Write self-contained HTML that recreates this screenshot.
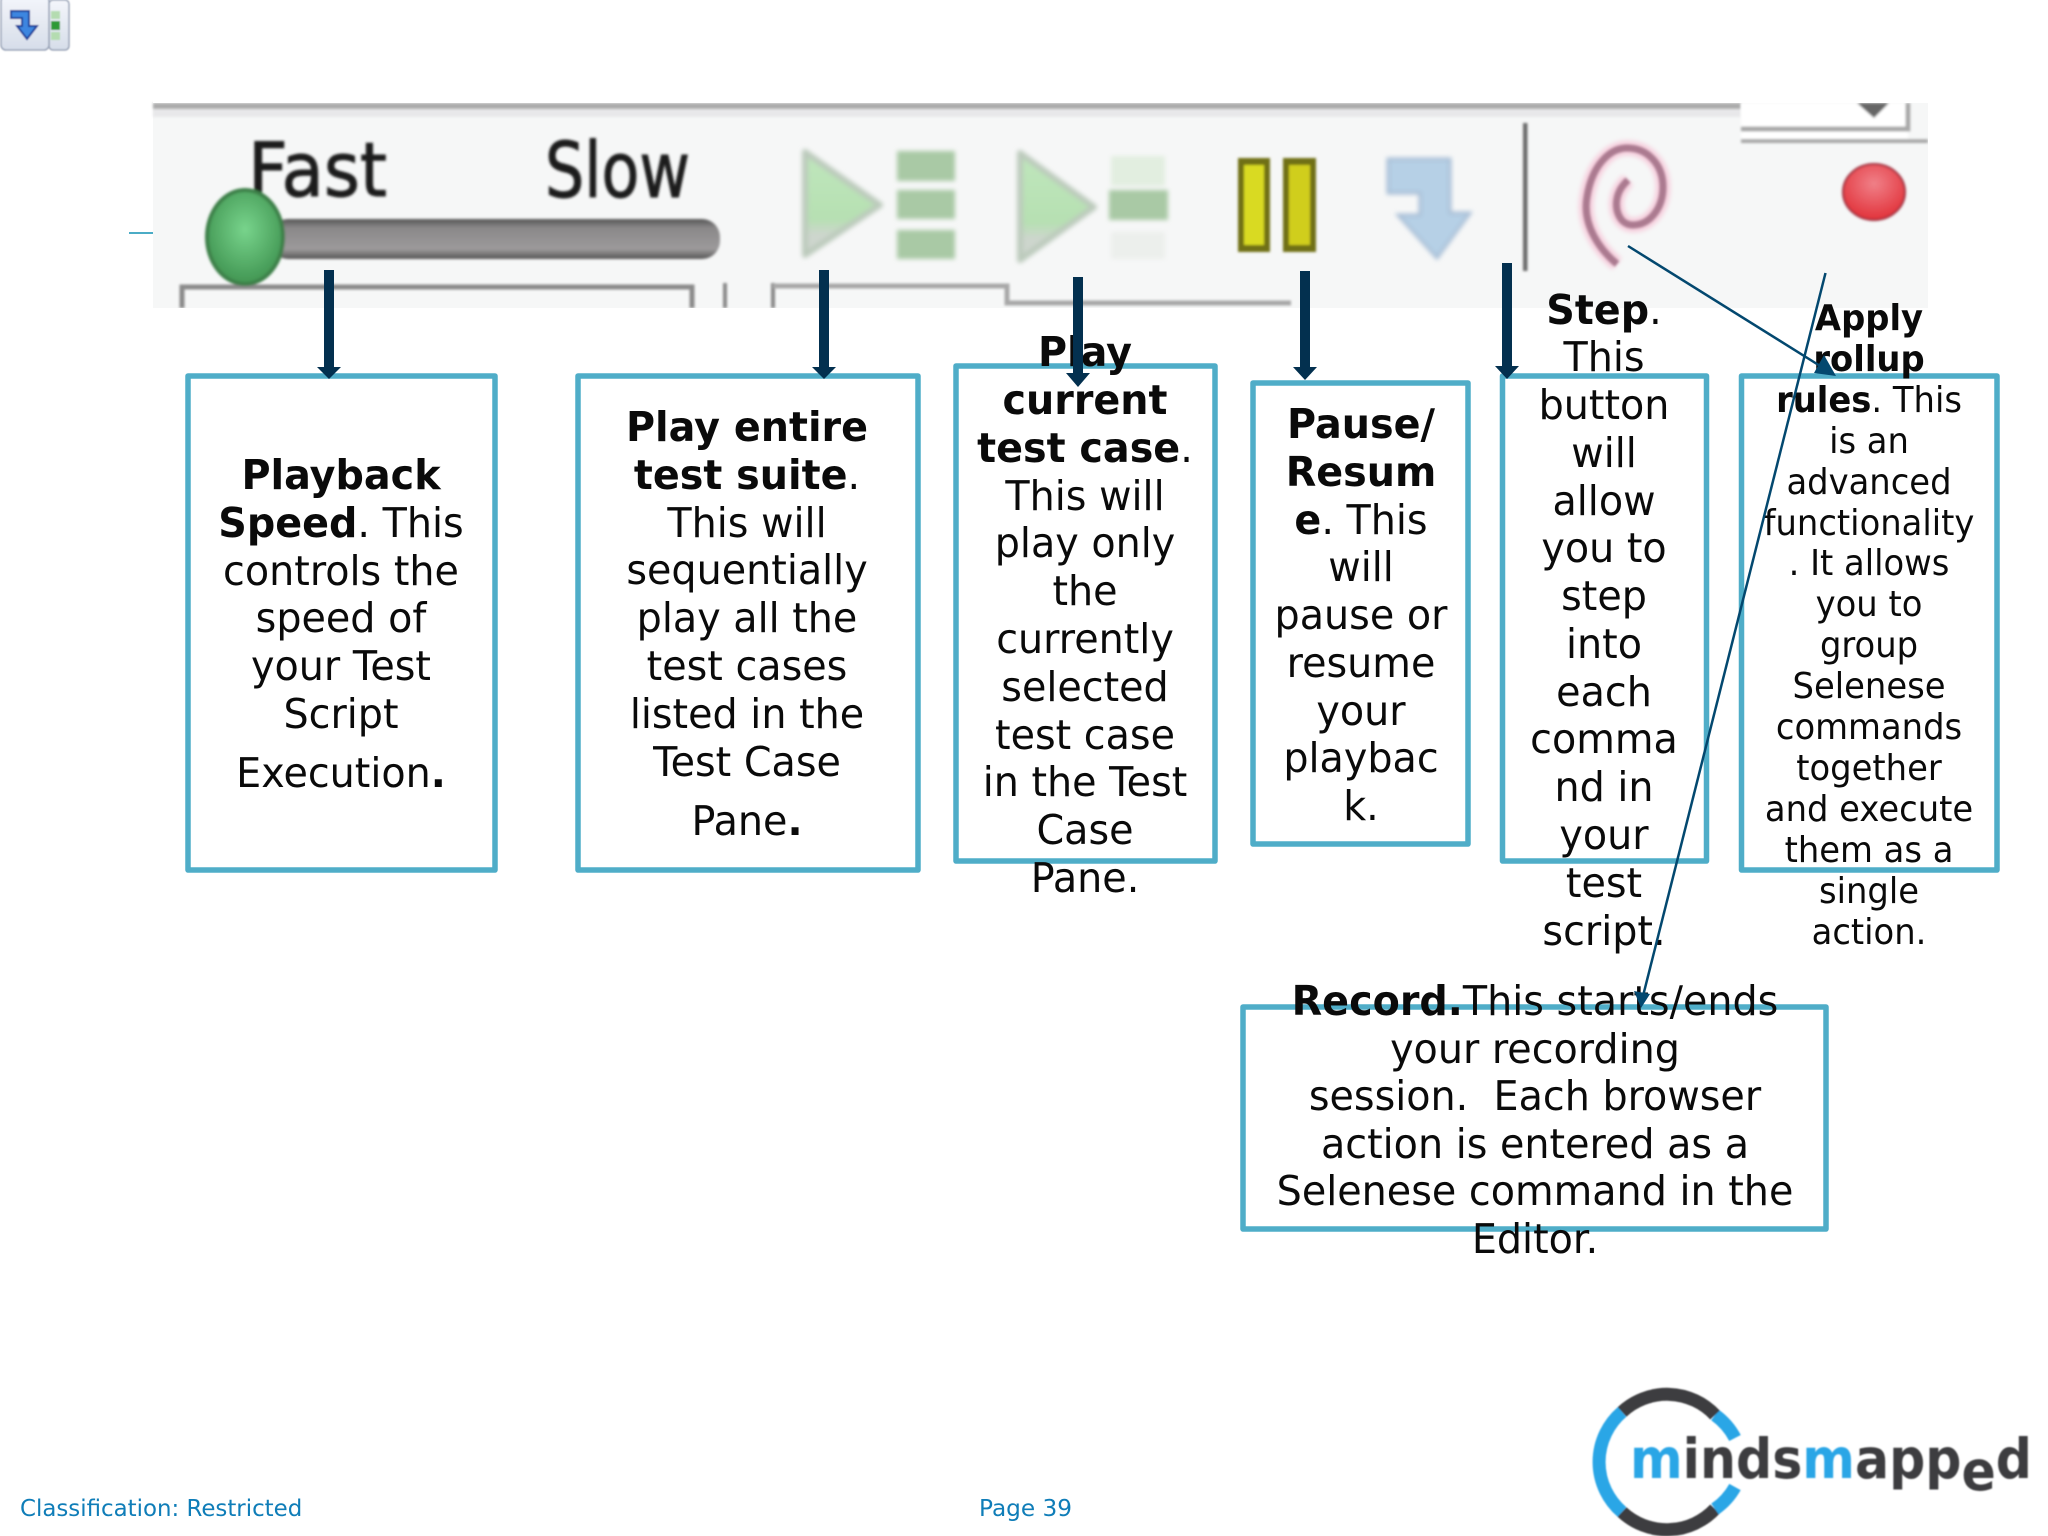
<!DOCTYPE html>
<html><head><meta charset="utf-8">
<style>
html,body{margin:0;padding:0;background:#fff}
svg{display:block}
.t text{font-family:"DejaVu Sans",sans-serif;font-size:41px;text-anchor:middle;fill:#0a0a0a}
.s text{font-size:35.2px}
.b{font-weight:bold}
</style></head><body>
<svg xmlns="http://www.w3.org/2000/svg" width="2048" height="1536" viewBox="0 0 2048 1536">
<defs>
<filter id="b1" x="-20%" y="-20%" width="140%" height="140%"><feGaussianBlur stdDeviation="1.3"/></filter>
<filter id="b3" x="-30%" y="-30%" width="160%" height="160%"><feGaussianBlur stdDeviation="2.4"/></filter>
<filter id="b2" x="-20%" y="-20%" width="140%" height="140%"><feGaussianBlur stdDeviation="0.7"/></filter>
<linearGradient id="tr" x1="0" y1="0" x2="0" y2="1"><stop offset="0" stop-color="#555"/><stop offset=".22" stop-color="#8a8889"/><stop offset=".75" stop-color="#9c9a9b"/><stop offset="1" stop-color="#555"/></linearGradient>
<radialGradient id="th" cx=".5" cy=".42" r=".6"><stop offset="0" stop-color="#78d48c"/><stop offset="1" stop-color="#3f9350"/></radialGradient>
<radialGradient id="rd" cx=".5" cy=".35" r=".7"><stop offset="0" stop-color="#f08088"/><stop offset="1" stop-color="#e02c34"/></radialGradient>
<linearGradient id="ic" x1="0" y1="0" x2="0" y2="1"><stop offset="0" stop-color="#f4f6fb"/><stop offset="1" stop-color="#d6dde9"/></linearGradient>
<linearGradient id="tg" x1="0" y1="0" x2="0" y2="1"><stop offset="0" stop-color="#bfe6bc"/><stop offset=".65" stop-color="#b6e0b2"/><stop offset=".8" stop-color="#cdd6cd"/><stop offset="1" stop-color="#cfd6cf"/></linearGradient>
</defs>

<!-- top-left icon -->
<g filter="url(#b2)">
<rect x="49" y="0" width="20" height="50" rx="4" fill="url(#ic)" stroke="#9aa4b8" stroke-width="1.5"/>
<rect x="1" y="-4" width="48" height="54" rx="5" fill="url(#ic)" stroke="#9aa4b8" stroke-width="1.5"/>
<path d="M11 11H29V26H37L27 39L17 26H22V18H11Z" fill="#3d86e0" stroke="#1c3f9a" stroke-width="2"/>
<rect x="51" y="11" width="9" height="8" fill="#b4dcb0"/><rect x="51" y="21" width="9" height="9" fill="#2f9a36"/><rect x="51" y="32" width="9" height="8" fill="#b4dcb0"/>
</g>

<!-- teal stub -->
<rect x="129" y="232" width="26" height="2" fill="#4bacc6"/>

<!-- toolbar image -->
<rect x="153" y="103" width="1775" height="205" fill="#f6f7f7"/>
<g filter="url(#b1)">
<rect x="153" y="103" width="1588" height="6" fill="#ababab"/>
<rect x="153" y="109" width="1588" height="8" fill="#e8e8ea"/>
<text x="248" y="196" font-family="DejaVu Sans" font-size="75" textLength="139" lengthAdjust="spacingAndGlyphs" fill="#1a1a1a" stroke="#1a1a1a" stroke-width="1">Fast</text>
<text x="545" y="197" font-family="DejaVu Sans" font-size="77" textLength="145" lengthAdjust="spacingAndGlyphs" fill="#1a1a1a" stroke="#1a1a1a" stroke-width="1">Slow</text>
<path d="M182 308V287H692V308" fill="none" stroke="#8a8a8a" stroke-width="5"/>
<path d="M725 283V308M773 283V308" fill="none" stroke="#888" stroke-width="4"/>
<path d="M773 286H1007V303H1291" fill="none" stroke="#a8a8a8" stroke-width="5"/>
<rect x="270" y="219" width="450" height="40" rx="18" fill="url(#tr)"/>
<ellipse cx="245" cy="237" rx="38" ry="47" fill="url(#th)" stroke="#3c8048" stroke-width="4"/>
<rect x="1238" y="158" width="32" height="94" fill="#6f7018"/>
<rect x="1283" y="158" width="33" height="94" fill="#6f7018"/>
<rect x="1244" y="165" width="20" height="80" fill="#d9da20"/>
<rect x="1289" y="165" width="21" height="80" fill="#d0ce1a"/>
<rect x="1523" y="123" width="4.500" height="148" fill="#6c6c6c"/>
<ellipse cx="1874" cy="192" rx="31" ry="28" fill="url(#rd)" stroke="#a03040" stroke-width="2"/>
</g>
<g filter="url(#b3)">
<path d="M805 152L880 205L805 255Z" fill="url(#tg)" stroke="#bccabc" stroke-width="6" stroke-linejoin="round"/>
<rect x="897" y="151" width="58" height="30" fill="#a9c9a5"/><rect x="897" y="190" width="58" height="29" fill="#a9c9a5"/><rect x="897" y="230" width="58" height="29" fill="#a9c9a5"/>
<path d="M1020 153L1094 207L1020 260Z" fill="url(#tg)" stroke="#bccabc" stroke-width="6" stroke-linejoin="round"/>
<rect x="1109" y="190" width="59" height="30" fill="#a9c9a5"/>
<rect x="1111" y="156" width="54" height="30" fill="#e2eee0"/><rect x="1111" y="232" width="54" height="27" fill="#ecefec"/>
<path d="M1388 159H1450V213H1470L1437 258L1398 215H1420V193H1388Z" fill="#b6d0e6" stroke="#a6bcd4" stroke-width="3"/>
<path d="M1617 264C1600 250 1582 225 1587 197C1592 165 1610 148 1627 148C1648 148 1663 165 1663 187C1663 208 1650 225 1633 225C1618 225 1612 205 1620 190C1622 186 1625 183 1628 180" fill="none" stroke="#f6d0de" stroke-width="15"/>
</g>
<path d="M1617 264C1600 250 1582 225 1587 197C1592 165 1610 148 1627 148C1648 148 1663 165 1663 187C1663 208 1650 225 1633 225C1618 225 1612 205 1620 190C1622 186 1625 183 1628 180" fill="none" stroke="#ab7a90" stroke-width="7" filter="url(#b1)"/>
<g filter="url(#b1)">
<rect x="1741" y="103" width="187" height="38" fill="#fff"/>
<rect x="1908" y="103" width="20" height="38" fill="#f6f7f7"/>
<path d="M1741 129H1908V103" fill="none" stroke="#a8a8a8" stroke-width="5"/>
<rect x="1741" y="139" width="187" height="4" fill="#a8a8a8"/>
<path d="M1857 103H1889L1874 118Z" fill="#666"/>
</g>
<rect x="153" y="308" width="1775" height="8" fill="#fff"/>
<rect x="1928" y="100" width="10" height="216" fill="#fff"/>
<rect x="153" y="95" width="1775" height="8" fill="#fff"/>

<!-- boxes -->
<g fill="none" stroke="#4fadc8" stroke-width="5.500" stroke-linejoin="round">
<rect x="188" y="376" width="307" height="494"/>
<rect x="578" y="376" width="340" height="494"/>
<rect x="956" y="366" width="259" height="495"/>
<rect x="1253" y="383" width="215" height="461"/>
<rect x="1502.500" y="376" width="204" height="485"/>
<rect x="1741.500" y="376" width="255.500" height="494"/>
<rect x="1243" y="1007" width="583" height="222"/>
</g>

<!-- text -->
<g class="t" transform="translate(341 0) scale(.968 1)">
<text y="489" class="b">Playback</text>
<text y="537"><tspan class="b">Speed</tspan>. This</text>
<text y="585">controls the</text>
<text y="632">speed of</text>
<text y="680">your Test</text>
<text y="728">Script</text>
<text y="787">Execution<tspan class="b">.</tspan></text>
</g>
<g class="t" transform="translate(747 0) scale(.968 1)">
<text y="441" class="b">Play entire</text>
<text y="489"><tspan class="b">test suite</tspan>.</text>
<text y="537">This will</text>
<text y="584">sequentially</text>
<text y="632">play all the</text>
<text y="680">test cases</text>
<text y="728">listed in the</text>
<text y="776">Test Case</text>
<text y="835">Pane<tspan class="b">.</tspan></text>
</g>
<g class="t" transform="translate(1085 0) scale(.968 1)">
<text y="366" class="b">Play</text>
<text y="414" class="b">current</text>
<text y="462"><tspan class="b">test case</tspan>.</text>
<text y="510">This will</text>
<text y="557">play only</text>
<text y="605">the</text>
<text y="653">currently</text>
<text y="701">selected</text>
<text y="749">test case</text>
<text y="796">in the Test</text>
<text y="844">Case</text>
<text y="892">Pane.</text>
</g>
<g class="t" transform="translate(1361 0) scale(.968 1)">
<text y="438" class="b">Pause/</text>
<text y="486" class="b">Resum</text>
<text y="534"><tspan class="b">e</tspan>. This</text>
<text y="581">will</text>
<text y="629">pause or</text>
<text y="677">resume</text>
<text y="725">your</text>
<text y="772">playbac</text>
<text y="820">k.</text>
</g>
<g class="t" transform="translate(1604 0) scale(.968 1)">
<text y="324"><tspan class="b">Step</tspan>.</text>
<text y="371">This</text>
<text y="419">button</text>
<text y="467">will</text>
<text y="515">allow</text>
<text y="562">you to</text>
<text y="610">step</text>
<text y="658">into</text>
<text y="706">each</text>
<text y="753">comma</text>
<text y="801">nd in</text>
<text y="849">your</text>
<text y="897">test</text>
<text y="945">script.</text>
</g>
<g class="t" transform="translate(1535 0) scale(.968 1)">
<text y="1015"><tspan class="b">Record.</tspan>This starts/ends</text>
<text y="1063">your recording</text>
<text y="1110">session.&#160; Each browser</text>
<text y="1158">action is entered as a</text>
<text y="1205">Selenese command in the</text>
<text y="1253">Editor.</text>
</g>
<g class="t s" transform="translate(1869 0) scale(.96 1)">
<text y="330" class="b">Apply</text>
<text y="371" class="b">rollup</text>
<text y="412"><tspan class="b">rules</tspan>. This</text>
<text y="453">is an</text>
<text y="494">advanced</text>
<text y="535">functionality</text>
<text y="575">. It allows</text>
<text y="616">you to</text>
<text y="657">group</text>
<text y="698">Selenese</text>
<text y="739">commands</text>
<text y="780">together</text>
<text y="821">and execute</text>
<text y="862">them as a</text>
<text y="903">single</text>
<text y="944">action.</text>
</g>

<!-- thick arrows -->
<g fill="#03304f">
<path d="M324 270H334V367H341L329 379L317 367H324Z"/>
<path d="M819 270H829V367H836L824 379L812 367H819Z"/>
<path d="M1073 277H1083V373H1090L1078 387L1066 373H1073Z"/>
<path d="M1300 271H1310V367H1317L1305 380L1293 367H1300Z"/>
<path d="M1502 263H1512V366H1519L1507 379L1495 366H1502Z"/>
</g>
<!-- thin arrows -->
<g stroke="#03486f" stroke-width="2.500" fill="none"><path d="M1628 246L1825 369"/><path d="M1825.500 273L1643 996"/></g>
<path d="M1836 376L1814 373L1824 355Z" fill="#03486f"/>
<path d="M1641 1008L1634 991L1650 994Z" fill="#03486f"/>

<!-- footer -->
<text x="20" y="1516" font-family="DejaVu Sans" font-size="22.900" fill="#0f7db8">Classification: Restricted</text>
<text x="979" y="1516" font-family="DejaVu Sans" font-size="23.200" fill="#0f7db8">Page 39</text>

<!-- logo -->
<g filter="url(#b2)">
<g fill="none" stroke-width="13">
<path d="M1735 1438A66 66 0 0 0 1715 1415" stroke="#29a6e6"/>
<path d="M1715 1415A66 66 0 0 0 1622 1412" stroke="#3d3d3f"/>
<path d="M1622 1412A66 66 0 0 0 1622 1512" stroke="#29a6e6"/>
<path d="M1622 1512A66 66 0 0 0 1715 1509" stroke="#3d3d3f"/>
<path d="M1715 1509A66 66 0 0 0 1735 1487" stroke="#29a6e6"/>
</g>
<text x="1630" y="1478" font-family="DejaVu Sans" font-weight="bold" font-size="55" textLength="402" lengthAdjust="spacingAndGlyphs" fill="#3d3d3f" stroke-linejoin="round"><tspan fill="#29a6e6">m</tspan>inds<tspan fill="#29a6e6">m</tspan>app<tspan dy="12">e</tspan><tspan dy="-12">d</tspan></text>
</g>
</svg>
</body></html>
